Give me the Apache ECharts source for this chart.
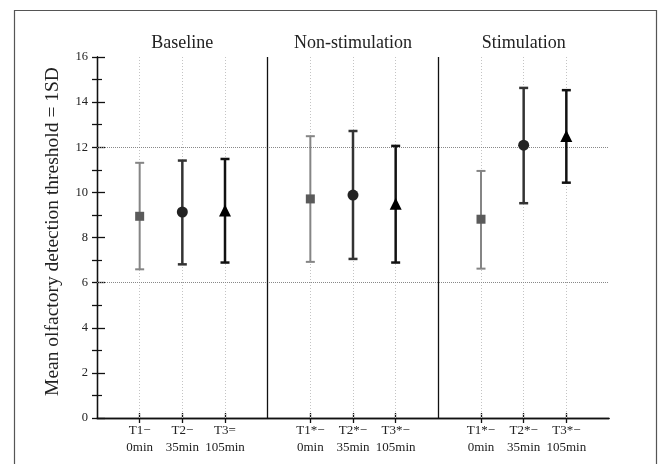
<!DOCTYPE html>
<html>
<head>
<meta charset="utf-8">
<script src="https://cdn.jsdelivr.net/npm/echarts@6/dist/echarts.min.js"></script>
<style>html,body{margin:0;padding:0;background:#fff;}#c{width:662px;height:464px;}</style>
</head>
<body>
<div id="c"></div>
<script>
// ---- data ----
var groups = ['Baseline', 'Non-stimulation', 'Stimulation'];
var timeNames = [['T1−', 'T2−', 'T3='], ['T1*−', 'T2*−', 'T3*−'], ['T1*−', 'T2*−', 'T3*−']];
var minutes = ['0min', '35min', '105min'];
var meansT1 = [8.94, 9.71, 8.81];
var lowT1 = [6.59, 6.92, 6.62];
var highT1 = [11.31, 12.49, 10.95];
var meansT2 = [9.13, 9.88, 12.09];
var lowT2 = [6.81, 7.05, 9.52];
var highT2 = [11.41, 12.72, 14.63];
var meansT3 = [9.20, 9.50, 12.50];
var lowT3 = [6.89, 6.89, 10.43];
var highT3 = [11.48, 12.06, 14.53];
var yTicks = [0, 2, 4, 6, 8, 10, 12, 14, 16];
var sdBand = [6, 12];

// ---- build ----
function pos(g, t) { return g * 4 + t + 1; }
var pointPos = [], labelMap = {}, groupPos = [], groupMap = {}, sepPos = [];
groups.forEach(function (g, gi) {
  for (var t = 0; t < 3; t++) {
    var p = pos(gi, t);
    pointPos.push(p);
    labelMap[p] = timeNames[gi][t] + '\n' + minutes[t];
  }
  groupPos.push(pos(gi, 1));
  groupMap[pos(gi, 1)] = g;
  if (gi > 0) sepPos.push(gi * 4);
});

var serif = 'Liberation Serif';
var styles = [
  { symbol: 'rect', size: 9, color: '#5a5a5a', bar: '#858585', w: 2 },
  { symbol: 'circle', size: 11, color: '#222', bar: '#333', w: 2.5 },
  { symbol: 'triangle', size: 12, color: '#000', bar: '#111', w: 2.5 }
];
var means = [meansT1, meansT2, meansT3], lows = [lowT1, lowT2, lowT3], highs = [highT1, highT2, highT3];

var series = [];
// reference / grid lines
series.push({
  type: 'line', data: [], silent: true, z: 1,
  markLine: {
    symbol: 'none', silent: true, z: 1, animation: false, label: { show: false },
    data: pointPos.map(function (p) { return { xAxis: p, lineStyle: { type: [1, 2], color: '#c4c4c4', width: 1 } }; })
      .concat(sdBand.map(function (v) { return { yAxis: v, lineStyle: { type: [1, 1], color: '#888', width: 1 } }; }))
      .concat(sepPos.map(function (p) { return { xAxis: p, lineStyle: { type: 'solid', color: '#111', width: 1.3 } }; }))
  }
});
for (var t = 0; t < 3; t++) {
  (function (t) {
    var st = styles[t];
    var ebData = [], mData = [];
    for (var g = 0; g < 3; g++) {
      ebData.push([pos(g, t), lows[t][g], highs[t][g]]);
      mData.push([pos(g, t), means[t][g]]);
    }
    series.push({
      type: 'custom', z: 3, data: ebData,
      renderItem: function (params, api) {
        var x = api.value(0);
        var lo = api.coord([x, api.value(1)]);
        var hi = api.coord([x, api.value(2)]);
        var hw = 4.5;
        var s = { stroke: st.bar, lineWidth: st.w };
        return {
          type: 'group', children: [
            { type: 'line', shape: { x1: lo[0], y1: lo[1], x2: hi[0], y2: hi[1] }, style: s },
            { type: 'line', shape: { x1: lo[0] - hw, y1: lo[1], x2: lo[0] + hw, y2: lo[1] }, style: s },
            { type: 'line', shape: { x1: hi[0] - hw, y1: hi[1], x2: hi[0] + hw, y2: hi[1] }, style: s }
          ]
        };
      }
    });
    series.push({
      type: 'scatter', z: 4, data: mData, symbol: st.symbol, symbolSize: st.size,
      itemStyle: { color: st.color, opacity: 1 }
    });
  })(t);
}

var chart = echarts.init(document.getElementById('c'));
chart.setOption({
  animation: false,
  backgroundColor: '#fff',
  grid: { left: 97, right: 53, top: 57, bottom: 46 },
  graphic: [{
    type: 'rect', silent: true,
    shape: { x: 14.5, y: 10.5, width: 642, height: 480 },
    style: { fill: 'none', stroke: '#555', lineWidth: 1.2 }
  }],
  xAxis: [{
    type: 'value', position: 'bottom', min: 0, max: 12, interval: 1,
    axisLine: { lineStyle: { color: '#111', width: 1.3 } },
    axisTick: { inside: true, length: 5, customValues: pointPos, lineStyle: { color: '#111', width: 1.3 } },
    axisLabel: {
      customValues: pointPos, margin: 4,
      formatter: function (v) { return labelMap[v] || ''; },
      fontFamily: serif, fontSize: 13, lineHeight: 17, color: '#222'
    },
    splitLine: { show: false }
  }, {
    type: 'value', position: 'top', min: 0, max: 12, interval: 1,
    axisLine: { lineStyle: { color: '#111', width: 1.3 } },
    axisTick: { inside: true, length: 5, customValues: pointPos, lineStyle: { color: '#111', width: 1.3 } },
    axisLabel: {
      customValues: groupPos, margin: 5,
      formatter: function (v) { return groupMap[v] || ''; },
      fontFamily: serif, fontSize: 18, color: '#222'
    },
    splitLine: { show: false }
  }],
  yAxis: [{
    type: 'value', position: 'left', min: 0, max: 16, interval: 2,
    name: 'Mean olfactory detection threshold = 1SD',
    nameLocation: 'middle', nameGap: 34, nameRotate: 90,
    nameTextStyle: { fontFamily: serif, fontSize: 19.5, color: '#222', padding: [0, 0, 0, 12] },
    axisLine: { lineStyle: { color: '#111', width: 1.3 } },
    axisTick: { inside: true, length: 8, customValues: yTicks, lineStyle: { color: '#111', width: 1.3 } },
    minorTick: { show: true, splitNumber: 2, length: 5, lineStyle: { color: '#111', width: 1.2 } },
    axisLabel: { customValues: yTicks, margin: 9, fontFamily: serif, fontSize: 12.5, color: '#222' },
    splitLine: { show: false }
  }, {
    type: 'value', position: 'right', min: 0, max: 16, interval: 1,
    axisLine: { lineStyle: { color: '#111', width: 1.3 } },
    axisTick: { inside: true, length: 5, lineStyle: { color: '#111', width: 1.3 } },
    axisLabel: { show: false },
    splitLine: { show: false }
  }],
  series: series
});
</script>
</body>
</html>
